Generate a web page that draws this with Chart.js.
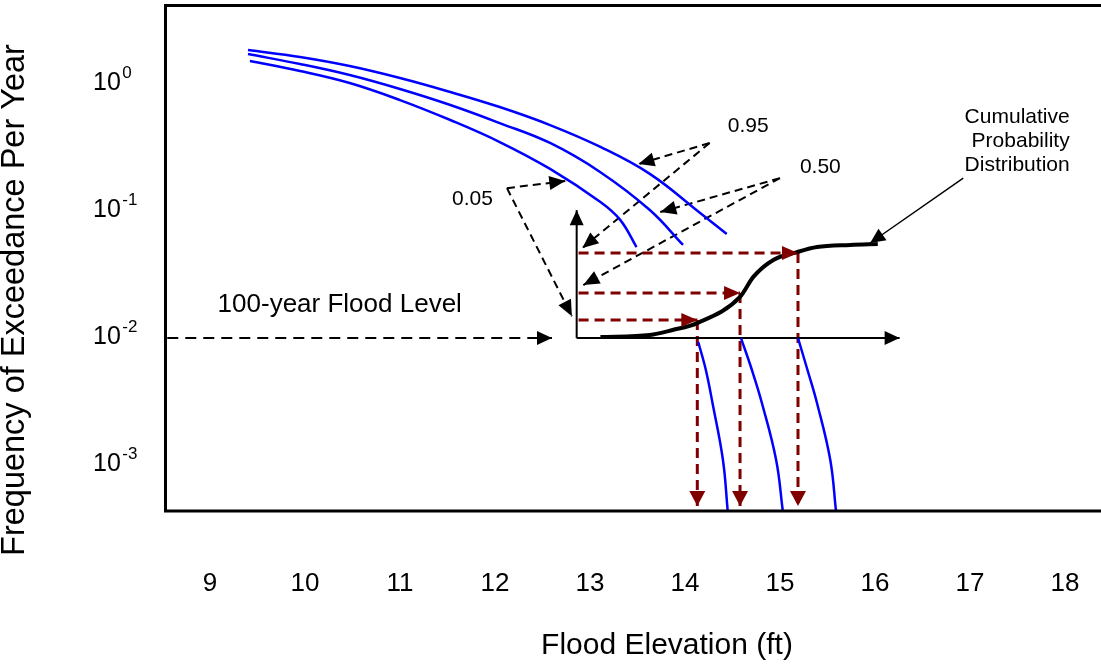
<!DOCTYPE html>
<html>
<head>
<meta charset="utf-8">
<script src="https://cdn.jsdelivr.net/npm/chart.js@4.4.0/dist/chart.umd.min.js"></script>
<style>
  html, body { margin: 0; padding: 0; background: #fff; }
  canvas { display: block; }
</style>
</head>
<body>
<canvas id="floodChart" width="1101" height="667"></canvas>
<script>
// axis ranges / ticks
const xMin = 8.526, xMax = 18.38;
const yMin = 4.19e-4, yMax = 4.04;
const xTicks = [9, 10, 11, 12, 13, 14, 15, 16, 17, 18];
const yTicks = [1, 0.1, 0.01, 0.001];
const yTickPowers = ['0', '-1', '-2', '-3'];

// exceedance-frequency curves (upper part), one per percentile
const p05Elev = [9.42, 9.947, 10.47, 11.0, 11.53, 12.05, 12.58, 13.11, 13.32, 13.49];
const p05Freq = [1.463, 1.221, 0.982, 0.721, 0.502, 0.337, 0.207, 0.1135, 0.0818, 0.0502];
const p50Elev = [9.40, 9.947, 10.47, 11.0, 11.53, 12.05, 12.58, 13.11, 13.63, 13.98];
const p50Freq = [1.660, 1.386, 1.135, 0.881, 0.659, 0.475, 0.331, 0.195, 0.0982, 0.0521];
const p95Elev = [9.40, 9.947, 10.47, 11.0, 11.53, 12.05, 12.58, 13.11, 13.63, 14.16, 14.44];
const p95Freq = [1.786, 1.574, 1.336, 1.075, 0.834, 0.635, 0.458, 0.308, 0.189, 0.0931, 0.0635];

// lower tails below the 100-year level
const tailAElev = [14.14, 14.22, 14.29, 14.40, 14.45];
const tailAFreq = [0.00897, 0.0054, 0.00297, 0.001056, 0.00042];
const tailBElev = [14.59, 14.705, 14.81, 14.96, 15.03];
const tailCElev = [15.19, 15.29, 15.39, 15.53, 15.59];
const tailFreq = [0.00964, 0.0054, 0.00297, 0.001056, 0.00042];

// cumulative probability distribution
const cdfElev = [13.11, 13.63, 13.87, 14.13, 14.58, 14.72, 14.93, 15.18, 15.39, 15.74, 16.03];
const cdfFreq = [0.00982, 0.01018, 0.01115, 0.01265, 0.0203, 0.0292, 0.0397, 0.0458, 0.0502, 0.0521, 0.0530];

// small inset axes
const insetOriginElev = 12.86, insetOriginFreq = 0.00964;
const insetTopFreq = 0.098, insetRightElev = 16.26;

// 100-year flood level arrow
const floodElev = [8.55, 12.60];
const floodFreq = [0.00964, 0.00964];

// red guide arrows (percentile levels -> elevations)
const guideStartElev = 12.88;
const guideElev = [14.13, 14.58, 15.19];
const guideFreq = [0.01337, 0.02183, 0.0451];
const guideFootFreq = 4.58e-4;

// dashed pointers from the percentile labels (0.05, 0.95, 0.50)
const ptrCornerElev = [12.126, 14.26, 15.00];
const ptrCornerFreq = [0.146, 0.331, 0.175];
const ptrCurveElev = [12.74, 13.51, 13.74];
const ptrCurveFreq = [0.166, 0.226, 0.0946];
const ptrAxisElev = [12.81, 12.92, 12.93];
const ptrAxisFreq = [0.0143, 0.0493, 0.0252];

// cdf label pointer
const cdfPtrElev = [16.93, 15.95];
const cdfPtrFreq = [0.175, 0.054];

// text labels
const pctLabels = ['0.05', '0.95', '0.50'];
const pctLabelElev = [11.547, 14.45, 15.21];
const pctLabelFreq = [0.1074, 0.4036, 0.1918];
const cdfLabelLines = ['Cumulative', 'Probability', 'Distribution'];
const cdfLabelElev = 18.05, cdfLabelFreq = 0.475;
const floodLabel = '100-year Flood Level';
const floodLabelElev = 9.08, floodLabelFreq = 0.01545;

const FONT = '"Liberation Sans", Arial, sans-serif';
const BLUE = '#0000ff', RED = '#800000', BLACK = '#000000';

const lineSet = (xs, ys, opts) => Object.assign({
  data: xs.map((x, i) => ({ x: x, y: ys[i] })),
  showLine: true, pointRadius: 0, pointHoverRadius: 0,
  borderWidth: 2, borderColor: BLACK, fill: false
}, opts);

const blue = { borderColor: BLUE, borderWidth: 2.5, tension: 0.4 };
const datasets = [
  lineSet(p05Elev, p05Freq, blue),
  lineSet(p50Elev, p50Freq, blue),
  lineSet(p95Elev, p95Freq, blue),
  lineSet(tailAElev, tailAFreq, blue),
  lineSet(tailBElev, tailFreq, blue),
  lineSet(tailCElev, tailFreq, blue),
  lineSet(cdfElev, cdfFreq, { borderWidth: 4, cubicInterpolationMode: 'monotone' }),
  lineSet([insetOriginElev, insetOriginElev], [insetOriginFreq, insetTopFreq], { arrow: [15, 7] }),
  lineSet([insetOriginElev, insetRightElev], [insetOriginFreq, insetOriginFreq], { arrow: [15, 7] }),
  lineSet(floodElev, floodFreq, { borderDash: [11, 7], arrow: [15, 7] }),
  lineSet(cdfPtrElev, cdfPtrFreq, { borderWidth: 1.5, arrow: [15, 7] })
];

guideElev.forEach((e, i) => {
  datasets.push(lineSet([guideStartElev, e], [guideFreq[i], guideFreq[i]],
    { borderColor: RED, borderWidth: 3, borderDash: [10, 6], arrow: [16, 7] }));
  datasets.push(lineSet([e, e], [guideFreq[i], guideFootFreq],
    { borderColor: RED, borderWidth: 3, borderDash: [10, 6], arrow: [15, 8] }));
});

ptrCornerElev.forEach((e, i) => {
  datasets.push(lineSet([e, ptrCurveElev[i]], [ptrCornerFreq[i], ptrCurveFreq[i]],
    { borderDash: [8, 5], arrow: [16, 7] }));
  datasets.push(lineSet([e, ptrAxisElev[i]], [ptrCornerFreq[i], ptrAxisFreq[i]],
    { borderDash: [8, 5], arrow: [16, 7] }));
});

// arrowheads at the end of flagged lines
const arrowHeads = {
  id: 'arrowHeads',
  afterDatasetsDraw(chart) {
    const ctx = chart.ctx;
    chart.data.datasets.forEach((ds, i) => {
      if (!ds.arrow) return;
      const pts = chart.getDatasetMeta(i).data;
      const a = pts[pts.length - 2], b = pts[pts.length - 1];
      const ang = Math.atan2(b.y - a.y, b.x - a.x);
      const len = ds.arrow[0], half = ds.arrow[1];
      const bx = b.x - len * Math.cos(ang), by = b.y - len * Math.sin(ang);
      ctx.save();
      ctx.fillStyle = ds.borderColor;
      ctx.beginPath();
      ctx.moveTo(b.x, b.y);
      ctx.lineTo(bx - half * Math.sin(ang), by + half * Math.cos(ang));
      ctx.lineTo(bx + half * Math.sin(ang), by - half * Math.cos(ang));
      ctx.closePath();
      ctx.fill();
      ctx.restore();
    });
  }
};

// frame, y tick labels, titles and notes
const decor = {
  id: 'decor',
  afterDraw(chart) {
    const ctx = chart.ctx;
    const xs = chart.scales.x, ys = chart.scales.y;
    const a = chart.chartArea;
    ctx.save();
    ctx.strokeStyle = BLACK;
    ctx.lineWidth = 3;
    ctx.lineJoin = 'miter';
    ctx.beginPath();
    ctx.moveTo(a.right + 5, a.top + 0.5);
    ctx.lineTo(a.left + 0.5, a.top + 0.5);
    ctx.lineTo(a.left + 0.5, a.bottom);
    ctx.lineTo(a.right + 5, a.bottom);
    ctx.stroke();

    ctx.fillStyle = BLACK;
    ctx.textBaseline = 'alphabetic';
    // y ticks as 10^n
    yTicks.forEach((v, i) => {
      const py = ys.getPixelForValue(v);
      ctx.font = '25px ' + FONT;
      ctx.textAlign = 'left';
      ctx.fillText('10', 93, py + 8);
      const w = ctx.measureText('10').width;
      ctx.font = '17px ' + FONT;
      ctx.fillText(yTickPowers[i], 93 + w + 1.5, py - 4);
    });

    // axis titles
    ctx.font = '30px ' + FONT;
    ctx.textAlign = 'center';
    ctx.fillText('Flood Elevation (ft)', 667, 654);
    ctx.save();
    ctx.translate(24, 300);
    ctx.rotate(-Math.PI / 2);
    ctx.font = '32.5px ' + FONT;
    ctx.fillText('Frequency of Exceedance Per Year', 0, 0);
    ctx.restore();

    // percentile labels
    ctx.font = '21px ' + FONT;
    ctx.textAlign = 'left';
    pctLabels.forEach((t, i) => {
      ctx.fillText(t, xs.getPixelForValue(pctLabelElev[i]), ys.getPixelForValue(pctLabelFreq[i]));
    });
    ctx.textAlign = 'right';
    const cx = xs.getPixelForValue(cdfLabelElev), cy = ys.getPixelForValue(cdfLabelFreq);
    cdfLabelLines.forEach((t, i) => ctx.fillText(t, cx, cy + i * 24));

    ctx.font = '26px ' + FONT;
    ctx.textAlign = 'left';
    ctx.fillText(floodLabel, xs.getPixelForValue(floodLabelElev), ys.getPixelForValue(floodLabelFreq));
    ctx.restore();
  }
};

Chart.defaults.font.family = FONT;
const ctx = document.getElementById('floodChart').getContext('2d');
new Chart(ctx, {
  type: 'scatter',
  data: { datasets: datasets },
  options: {
    responsive: false,
    animation: false,
    events: [],
    layout: { padding: { top: 5, left: 0, right: 0, bottom: 0 } },
    plugins: { legend: { display: false }, tooltip: { enabled: false } },
    scales: {
      x: {
        type: 'linear', min: xMin, max: xMax,
        afterBuildTicks: s => { s.ticks = xTicks.map(v => ({ value: v })); },
        afterFit: s => { s.height = 156; s.paddingLeft = 0; s.paddingRight = 0; },
        grid: { display: false }, border: { display: false },
        ticks: { autoSkip: false, maxRotation: 0, color: BLACK, font: { size: 26 }, padding: 49 }
      },
      y: {
        type: 'logarithmic', min: yMin, max: yMax,
        afterFit: s => { s.width = 165; s.paddingTop = 0; s.paddingBottom = 0; },
        grid: { display: false }, border: { display: false },
        ticks: { display: false }
      }
    }
  },
  plugins: [arrowHeads, decor]
});
</script>
</body>
</html>
